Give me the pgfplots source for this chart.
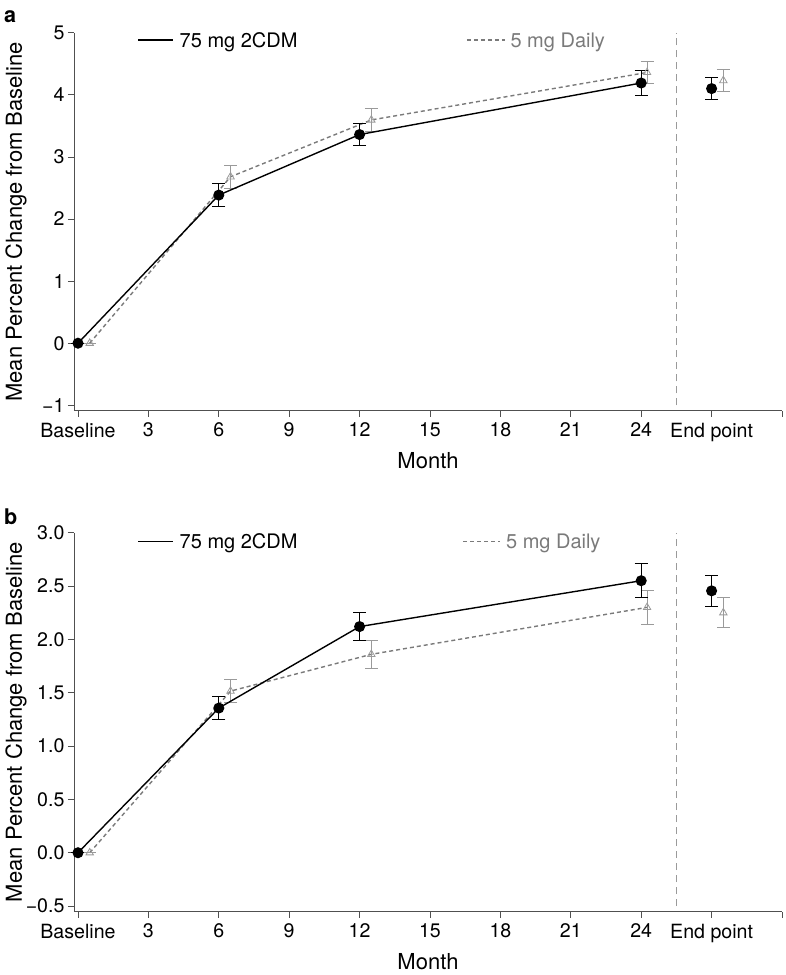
\documentclass[border=0pt]{standalone}
\usepackage{fontspec}
\setmainfont{TeX Gyre Heros}
\usepackage{pgfplots}
\pgfplotsset{compat=1.18}
\definecolor{dgray}{HTML}{7A7A7A}
\definecolor{lgray}{HTML}{9A9A9A}
\definecolor{axgray}{HTML}{505050}

\pgfplotsset{
 mystyle/.style={
  scale only axis, width=708pt,
  axis x line*=bottom, axis y line*=left,
  axis line style={axgray, line width=0.8pt, -},
  xmin=-0.17, xmax=30,
  xtick={0,3,...,30},
  xticklabels={Baseline,3,6,9,12,15,18,21,24,End point,},
  tick align=outside, major tick length=6pt,
  tick style={axgray, line width=0.8pt},
  ticklabel style={font=\fontsize{19.6}{22}\selectfont},
  xticklabel style={yshift=-2.5pt},
  xlabel={Month}, ylabel={Mean Percent Change from Baseline},
  label style={font=\fontsize{22}{26}\selectfont},
  xlabel style={at={(axis description cs:0.5,-0.132)}, anchor=center},
  ylabel style={at={(axis description cs:-0.082,0.5)}, anchor=center},
  clip=false,
 },
 cdm/.style={black, line width=1.4pt, mark=*, mark size=4.8pt, mark options={solid},
  error bars/y dir=both, error bars/y explicit,
  error bars/error bar style={black, line width=0.9pt, solid},
  error bars/error mark options={rotate=90, mark size=6.5pt, black, line width=0.9pt, solid}},
 daily/.style={dgray, line width=1.4pt, dash pattern=on 4pt off 3pt, mark=triangle, mark size=4.3pt,
  mark options={solid, lgray, line width=0.8pt},
  error bars/y dir=both, error bars/y explicit,
  error bars/error bar style={lgray, line width=0.9pt, solid},
  error bars/error mark options={rotate=90, mark size=6.5pt, lgray, line width=0.9pt, solid}},
}

\begin{document}
\begin{tikzpicture}
\useasboundingbox (0,0) rectangle (785pt,-975pt);

% ---------- panel a ----------
\begin{axis}[mystyle, at={(74pt,-32.7pt)}, anchor=north west, height=378pt,
  ymin=-1.087, ymax=5, ytick={-1,0,1,2,3,4,5},
  yticklabels={−1,0,1,2,3,4,5}]
\addplot[daily] coordinates {(0.5,0) +- (0,0) (6.5,2.68) +- (0,0.18) (12.5,3.595) +- (0,0.185) (24.25,4.36) +- (0,0.18)};
\addplot[daily, only marks] coordinates {(27.5,4.23) +- (0,0.18)};
\addplot[cdm] coordinates {(0,0) +- (0,0) (6,2.385) +- (0,0.185) (12,3.36) +- (0,0.18) (24,4.19) +- (0,0.195)};
\addplot[cdm, only marks] coordinates {(27,4.10) +- (0,0.18)};
\draw[lgray, line width=0.9pt, dash pattern=on 7pt off 5pt] (axis cs:25.5,-1) -- (axis cs:25.5,5);
\draw[black, line width=1.4pt] (axis cs:2.56,4.88) -- (axis cs:4.05,4.88)
  node[anchor=base west, inner sep=0, xshift=6pt, yshift=-7pt, font=\fontsize{20}{24}\selectfont] {75 mg 2CDM};
\draw[dgray, line width=1.4pt, dash pattern=on 4pt off 3pt] (axis cs:16.57,4.88) -- (axis cs:18.19,4.88)
  node[anchor=base west, inner sep=0, xshift=5pt, yshift=-7pt, font=\fontsize{20}{24}\selectfont, text=dgray] {5 mg Daily};
\end{axis}
\node[anchor=base west, inner sep=0, font=\bfseries\fontsize{21.6}{24}\selectfont] at (4pt,-22pt) {a};

% ---------- panel b ----------
\begin{axis}[mystyle, at={(74pt,-532.7pt)}, anchor=north west, height=379pt,
  ymin=-0.553, ymax=3.0, ytick={-0.5,0,0.5,1,1.5,2,2.5,3},
  yticklabels={−0.5,0.0,0.5,1.0,1.5,2.0,2.5,3.0}]
\addplot[daily] coordinates {(0.5,0) +- (0,0) (6.5,1.515) +- (0,0.105) (12.5,1.86) +- (0,0.13) (24.25,2.30) +- (0,0.16)};
\addplot[daily, only marks] coordinates {(27.5,2.25) +- (0,0.14)};
\addplot[cdm] coordinates {(0,0) +- (0,0) (6,1.356) +- (0,0.105) (12,2.12) +- (0,0.13) (24,2.55) +- (0,0.16)};
\addplot[cdm, only marks] coordinates {(27,2.455) +- (0,0.145)};
\draw[lgray, line width=0.9pt, dash pattern=on 7pt off 5pt] (axis cs:25.5,-0.5) -- (axis cs:25.5,3);
\draw[black, line width=1.4pt] (axis cs:2.56,2.92) -- (axis cs:4.05,2.92)
  node[anchor=base west, inner sep=0, xshift=6pt, yshift=-7pt, font=\fontsize{20}{24}\selectfont] {75 mg 2CDM};
\draw[dgray, line width=1.4pt, dash pattern=on 4pt off 3pt] (axis cs:16.42,2.92) -- (axis cs:18.0,2.92)
  node[anchor=base west, inner sep=0, xshift=5pt, yshift=-7pt, font=\fontsize{20}{24}\selectfont, text=dgray] {5 mg Daily};
\end{axis}
\node[anchor=base west, inner sep=0, font=\bfseries\fontsize{21.6}{24}\selectfont] at (4pt,-524pt) {b};
\end{tikzpicture}
\end{document}
